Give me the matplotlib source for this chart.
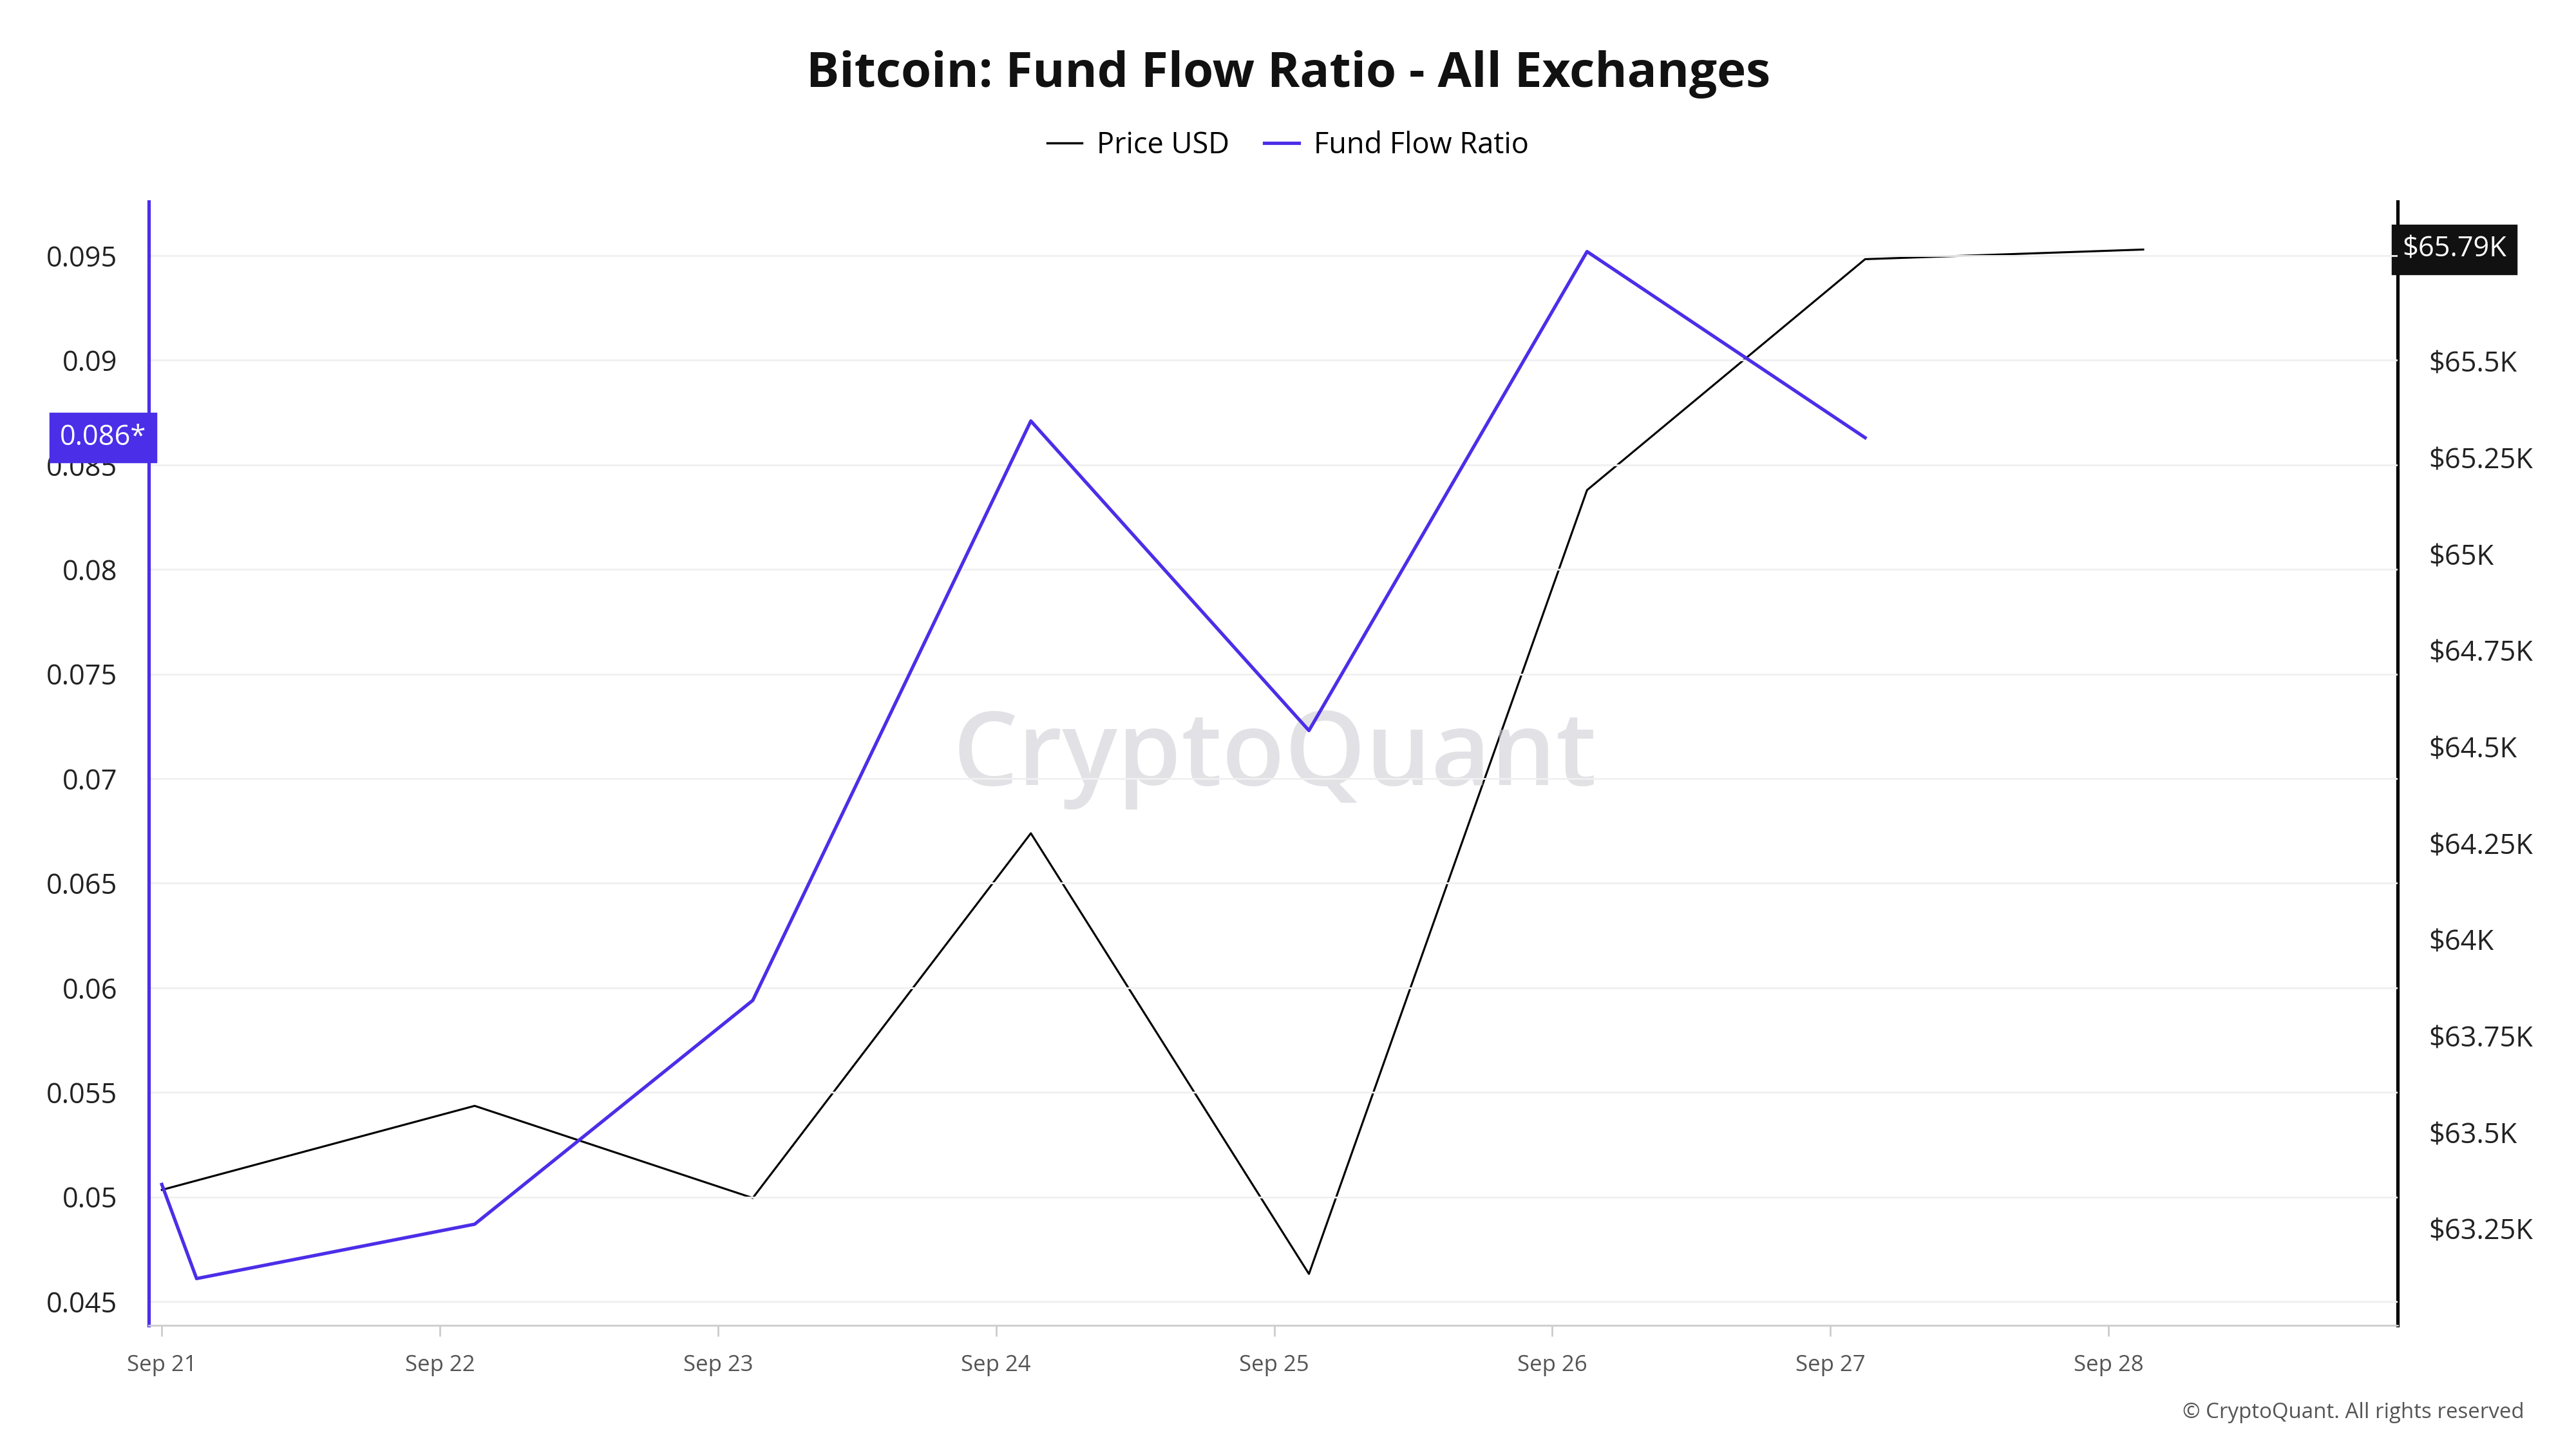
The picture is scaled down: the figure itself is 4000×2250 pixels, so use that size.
import matplotlib
matplotlib.use("Agg")
import matplotlib.pyplot as plt
import pandas as pd
from matplotlib.lines import Line2D

ffr_times = ["2024-09-21 00:00","2024-09-21 03:00","2024-09-22 03:00","2024-09-23 03:00","2024-09-24 03:00","2024-09-25 03:00","2024-09-26 03:00","2024-09-27 03:00"]
ffr_values = [0.0506,0.0461,0.0487,0.0594,0.0871,0.0723,0.0952,0.0863]
price_times = ["2024-09-21 00:00","2024-09-22 03:00","2024-09-23 03:00","2024-09-24 03:00","2024-09-25 03:00","2024-09-26 03:00","2024-09-27 03:00","2024-09-28 03:00"]
price_values = [63351,63569,63330,64276,63133,65166,65765,65790]
tick_dates = ["2024-09-21","2024-09-22","2024-09-23","2024-09-24","2024-09-25","2024-09-26","2024-09-27","2024-09-28"]
tick_labels = ["Sep 21","Sep 22","Sep 23","Sep 24","Sep 25","Sep 26","Sep 27","Sep 28"]
left_ticks = [0.045,0.05,0.055,0.06,0.065,0.07,0.075,0.08,0.085,0.09,0.095]
left_labels = ["0.045","0.05","0.055","0.06","0.065","0.07","0.075","0.08","0.085","0.09","0.095"]
right_ticks = [63250,63500,63750,64000,64250,64500,64750,65000,65250,65500]
right_labels = ["$63.25K","$63.5K","$63.75K","$64K","$64.25K","$64.5K","$64.75K","$65K","$65.25K","$65.5K"]

plt.rcParams["font.family"] = "Open Sans"
PURPLE = "#4b2ee8"
fig = plt.figure(figsize=(16, 9), dpi=250)
ax = fig.add_axes([90/1560, 1-803/878, 1362/1560, 681/878])
ax2 = ax.twinx()

ft = pd.to_datetime(ffr_times); pt = pd.to_datetime(price_times)
ax2.plot(pt, price_values, color="black", lw=0.9, zorder=2)
ax.plot(ft, ffr_values, color=PURPLE, lw=1.5, zorder=3)
ax.set_zorder(ax2.get_zorder()+1); ax.patch.set_visible(False)

t0 = pd.Timestamp("2024-09-21")
ax.set_xlim(t0 - pd.Timedelta(hours=1.14), t0 + pd.Timedelta(days=8.04))
ax.set_ylim(0.04387, 0.0976)
ax2.set_ylim(63000, 65915)
ax.set_xticks(pd.to_datetime(tick_dates)); ax.set_xticklabels(tick_labels, fontsize=10, color="#555")
ax.set_yticks(left_ticks); ax.set_yticklabels(left_labels, fontsize=12.5, color="#222")
ax2.set_yticks(right_ticks); ax2.set_yticklabels(right_labels, fontsize=12.5, color="#222")
ax.grid(axis="y", color="#f0f0f0", lw=0.8); ax.set_axisbelow(True)
for a in (ax, ax2):
    for s in a.spines.values(): s.set_visible(False)
ax.spines["left"].set_visible(True); ax.spines["left"].set_color(PURPLE); ax.spines["left"].set_linewidth(1.5)
ax2.spines["right"].set_visible(True); ax2.spines["right"].set_color("black"); ax2.spines["right"].set_linewidth(1.5)
ax.spines["bottom"].set_visible(True); ax.spines["bottom"].set_color("#cccccc")
ax.tick_params(axis="y", length=0, pad=14)
ax2.tick_params(axis="y", length=0, pad=14)
ax.tick_params(axis="x", length=5, color="#cccccc", pad=8)

ax.text(-0.001, ffr_values[-1], "0.086*", transform=ax.get_yaxis_transform(), ha="right", va="center",
        fontsize=12.5, color="white", bbox=dict(boxstyle="square,pad=0.35", fc=PURPLE, ec=PURPLE))
ax2.text(1.002, price_values[-1], "$65.79K", transform=ax2.get_yaxis_transform(), ha="left", va="center",
         fontsize=12.5, color="white", bbox=dict(boxstyle="square,pad=0.35", fc="#111", ec="#111"))

fig.text(0.5, 1-45/878, "Bitcoin: Fund Flow Ratio - All Exchanges", ha="center", va="center", fontsize=22, fontweight="bold", color="#111")
fig.text(0.495, 0.5 - 0.023, "CryptoQuant", ha="center", va="center", fontsize=46, fontweight="semibold", color="#d0d0d6", alpha=0.6, zorder=0)
fig.text(0.98, 1-856/878, "© CryptoQuant. All rights reserved", ha="right", va="center", fontsize=9.5, color="#555")
h = [Line2D([], [], color="black", lw=1), Line2D([], [], color=PURPLE, lw=1.5)]
fig.legend(h, ["Price USD", "Fund Flow Ratio"], loc="center", bbox_to_anchor=(0.5, 1-88/878), ncol=2,
           frameon=False, fontsize=13, handlelength=1.2, handletextpad=0.5, columnspacing=1.2)
fig.savefig("out.png", dpi=250)
